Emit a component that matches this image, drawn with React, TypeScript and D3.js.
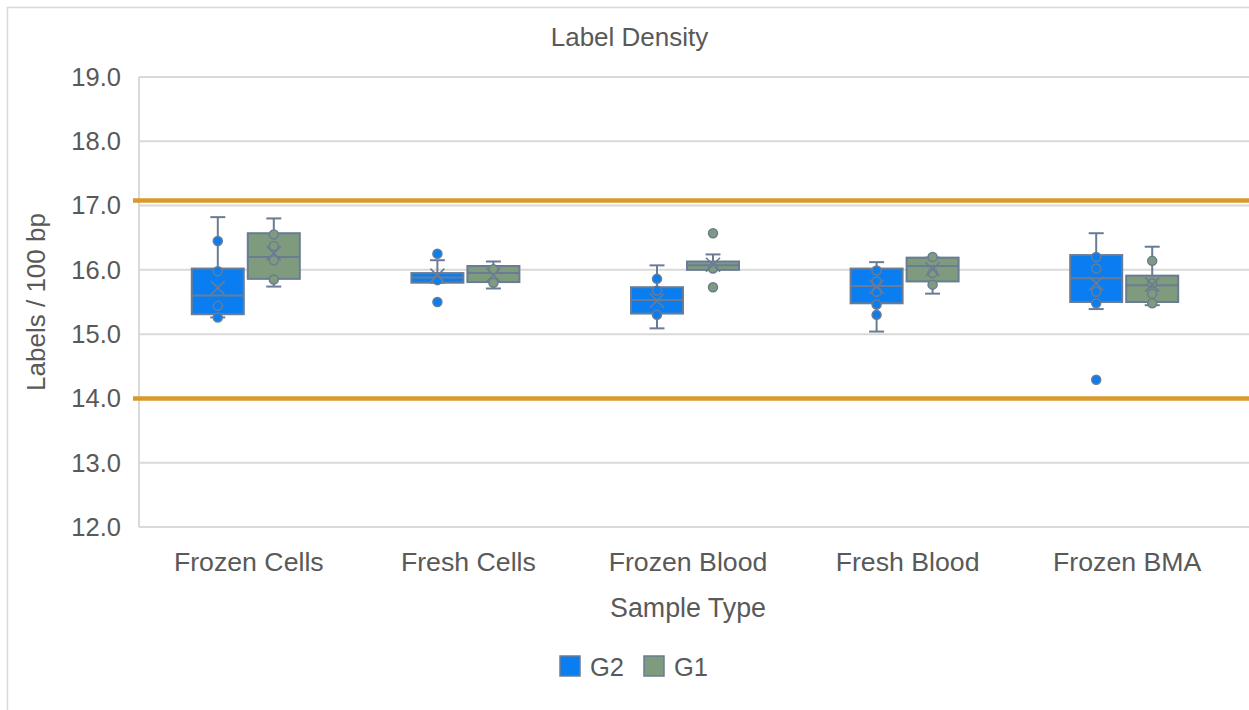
import React from "react";
import * as d3 from "d3";

const categories = ["Frozen Cells", "Fresh Cells", "Frozen Blood", "Fresh Blood", "Frozen BMA"];
const groups = ["G2", "G1"];
const yTicks = [12, 13, 14, 15, 16, 17, 18, 19];
const limitLines = [17.08, 14.0];

// G2 series box statistics
const g2Low = [15.26, 15.8, 15.09, 15.04, 15.39];
const g2Q1 = [15.31, 15.8, 15.32, 15.48, 15.5];
const g2Median = [15.6, 15.88, 15.53, 15.75, 15.87];
const g2Q3 = [16.02, 15.95, 15.73, 16.02, 16.23];
const g2High = [16.82, 16.15, 16.07, 16.12, 16.57];
const g2Mean = [15.72, 15.91, 15.52, 15.74, 15.79];
const g2Points = [
  [16.45, 15.98, 15.44, 15.26],
  [16.25, 15.84, 15.5],
  [15.86, 15.68, 15.3],
  [15.99, 15.82, 15.66, 15.46, 15.3],
  [16.2, 16.02, 15.66, 15.48, 14.29],
];

// G1 series box statistics
const g1Low = [15.74, 15.71, 16.0, 15.63, 15.45];
const g1Q1 = [15.86, 15.81, 16.0, 15.82, 15.5];
const g1Median = [16.2, 15.95, 16.07, 16.06, 15.76];
const g1Q3 = [16.57, 16.06, 16.13, 16.19, 15.91];
const g1High = [16.8, 16.13, 16.24, 16.19, 16.36];
const g1Mean = [16.26, 15.92, 16.08, 16.01, 15.77];
const g1Points = [
  [16.55, 16.37, 16.15, 15.85],
  [16.01, 15.8],
  [16.57, 16.02, 15.73],
  [16.2, 15.95, 15.77],
  [16.14, 15.79, 15.63, 15.48],
];

const seriesColors: Record<string, string> = { G2: "#0a7ef0", G1: "#7f9b7e" };
const strokeColor = "#6a7c94";
const textColor = "#595959";
const gridColor = "#d9d9d9";
const font = "'Liberation Sans', Arial, sans-serif";

export default function App() {
  const W = 1249;
  const H = 710;
  const left = 139;
  const top = 77;
  const bottom = 527;
  const right = 1237;

  const y = d3.scaleLinear().domain([12, 19]).range([bottom, top]);
  const x0 = d3.scaleBand<string>().domain(categories).range([left, right]);
  const x1 = d3.scaleBand<string>().domain(groups).range([-57, 51]).paddingInner(4 / 56);
  const bw = x1.bandwidth();

  const seriesData: Record<string, any> = {
    G2: { low: g2Low, q1: g2Q1, med: g2Median, q3: g2Q3, high: g2High, mean: g2Mean, pts: g2Points },
    G1: { low: g1Low, q1: g1Q1, med: g1Median, q3: g1Q3, high: g1High, mean: g1Mean, pts: g1Points },
  };

  const boxes: React.ReactNode[] = [];
  categories.forEach((cat, i) => {
    const center = (x0(cat) as number) + x0.bandwidth() / 2;
    groups.forEach((g) => {
      const s = seriesData[g];
      const bx = center + (x1(g) as number);
      const cx = bx + bw / 2;
      const fill = seriesColors[g];
      const capW = 15;
      const mx = 7;
      const my = y(s.mean[i]);
      boxes.push(
        <g key={cat + g}>
          <line x1={cx} x2={cx} y1={y(s.high[i])} y2={y(s.q3[i])} stroke={strokeColor} strokeWidth={2} />
          <line x1={cx} x2={cx} y1={y(s.q1[i])} y2={y(s.low[i])} stroke={strokeColor} strokeWidth={2} />
          <line x1={cx - capW / 2} x2={cx + capW / 2} y1={y(s.high[i])} y2={y(s.high[i])} stroke={strokeColor} strokeWidth={2} />
          <line x1={cx - capW / 2} x2={cx + capW / 2} y1={y(s.low[i])} y2={y(s.low[i])} stroke={strokeColor} strokeWidth={2} />
          <rect
            x={bx}
            y={y(s.q3[i])}
            width={bw}
            height={Math.max(0, y(s.q1[i]) - y(s.q3[i]))}
            fill={fill}
            stroke={strokeColor}
            strokeWidth={2}
          />
          <line x1={bx} x2={bx + bw} y1={y(s.med[i])} y2={y(s.med[i])} stroke={strokeColor} strokeWidth={2} />
          {s.pts[i].map((p: number, k: number) => (
            <circle key={k} cx={cx} cy={y(p)} r={4.5} fill={fill} stroke={strokeColor} strokeWidth={1.5} />
          ))}
          <path
            d={`M${cx - mx},${my - mx}L${cx + mx},${my + mx}M${cx - mx},${my + mx}L${cx + mx},${my - mx}`}
            stroke={strokeColor}
            strokeWidth={1.6}
            fill="none"
          />
        </g>
      );
    });
  });

  return (
    <svg width={W} height={H} style={{ position: "absolute", left: 0, top: 0 }} fontFamily={font}>
      <rect x={0} y={0} width={W} height={H} fill="#ffffff" />
      <rect x={7.5} y={7.5} width={W + 10} height={H + 10} fill="none" stroke={gridColor} strokeWidth={1.5} />
      <text x={629.5} y={46} textAnchor="middle" fontSize={26} fill={textColor}>
        Label Density
      </text>
      {yTicks.map((t) => (
        <g key={t}>
          <line x1={left} x2={W} y1={y(t)} y2={y(t)} stroke={gridColor} strokeWidth={2} />
          <text x={121} y={y(t)} dy="0.35em" textAnchor="end" fontSize={25.5} fill={textColor}>
            {d3.format(".1f")(t)}
          </text>
        </g>
      ))}
      <line x1={left} x2={left} y1={top} y2={bottom} stroke={gridColor} strokeWidth={2} />
      {limitLines.map((v, i) => (
        <line key={i} x1={133} x2={W} y1={y(v)} y2={y(v)} stroke="#d99a2b" strokeWidth={4.5} />
      ))}
      {boxes}
      {categories.map((c) => (
        <text
          key={c}
          x={(x0(c) as number) + x0.bandwidth() / 2}
          y={571}
          textAnchor="middle"
          fontSize={26.7}
          fill={textColor}
        >
          {c}
        </text>
      ))}
      <text x={688} y={617} textAnchor="middle" fontSize={26.8} fill={textColor}>
        Sample Type
      </text>
      <text transform={`translate(45,302) rotate(-90)`} textAnchor="middle" fontSize={26} fill={textColor}>
        Labels / 100 bp
      </text>
      {groups.map((g, i) => {
        const lx = 560 + i * 84;
        return (
          <g key={g}>
            <rect x={lx} y={656} width={20} height={20} fill={seriesColors[g]} stroke={strokeColor} strokeWidth={1.5} />
            <text x={lx + 30} y={676} fontSize={25.5} fill={textColor}>
              {g}
            </text>
          </g>
        );
      })}
    </svg>
  );
}
